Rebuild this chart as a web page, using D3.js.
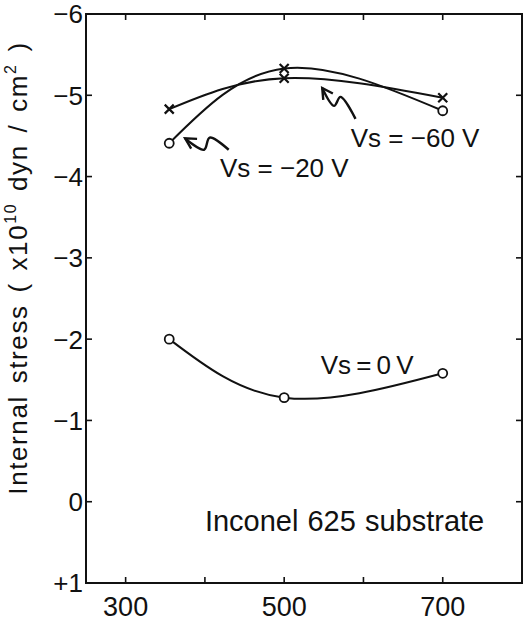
<!DOCTYPE html>
<html>
<head>
<meta charset="utf-8">
<script src="https://cdn.jsdelivr.net/npm/d3@7"></script>
<style>
  body { margin: 0; background: #fff; }
  text { font-family: "Liberation Sans", Arial, sans-serif; fill: #111; }
</style>
</head>
<body>
<div id="chart"></div>
<script>
// substrate temperature (x) and internal stress in 1e10 dyn/cm2 (y, negative = up)
var temps = [355, 500, 700];
var stress0 = [-2.0, -1.28, -1.58];
var stress20 = [-4.41, -5.33, -4.81];
var stress60 = [-4.83, -5.21, -4.97];
var marks0 = ["o", "o", "o"];
var marks20 = ["o", "x", "o"];
var marks60 = ["x", "x", "x"];

var xTicks = [300, 400, 500, 600, 700];
var xLabels = [300, 500, 700];
var yTicks = [-6, -5, -4, -3, -2, -1, 0, 1];
var yLabels = ["\u22126", "\u22125", "\u22124", "\u22123", "\u22122", "\u22121", "0", "+1"];

// annotations, in data units
var notes = [
  { text: "Vs = \u221220 V", x: 419, y: -4.0, size: 26, ws: 0 },
  { text: "Vs = \u221260 V", x: 584, y: -4.36, size: 26, ws: 0 },
  { text: "Vs = 0 V", x: 546, y: -1.57, size: 26, ws: -2 },
  { text: "Inconel 625 substrate", x: 400, y: 0.36, size: 29, ws: 1 }
];
var arrow20 = [[375, -4.47], [399, -4.33], [406, -4.48], [430, -4.33]];
var arrow60 = [[548, -5.09], [563, -4.87], [571, -4.98], [590, -4.71]];

var width = 528, height = 625;

var x = d3.scaleLinear().domain([250, 800]).range([86, 522]);
var y = d3.scaleLinear().domain([-6, 1]).range([14, 583]);

var svg = d3.select("#chart").append("svg")
  .attr("width", width)
  .attr("height", height);

////////////////////// frame and ticks //////////////////////
svg.append("rect")
  .attr("x", x(250)).attr("y", y(-6))
  .attr("width", x(800) - x(250)).attr("height", y(1) - y(-6))
  .attr("fill", "none").attr("stroke", "#111").attr("stroke-width", 2);

var tick = 6;
svg.selectAll("line.xb").data(xTicks).enter().append("line")
  .attr("x1", d => x(d)).attr("x2", d => x(d))
  .attr("y1", y(1)).attr("y2", y(1) - tick)
  .attr("stroke", "#111").attr("stroke-width", 1.6);
svg.selectAll("line.xt").data(xTicks).enter().append("line")
  .attr("x1", d => x(d)).attr("x2", d => x(d))
  .attr("y1", y(-6)).attr("y2", y(-6) + tick)
  .attr("stroke", "#111").attr("stroke-width", 1.6);
svg.selectAll("line.yl").data(yTicks).enter().append("line")
  .attr("x1", x(250)).attr("x2", x(250) + tick)
  .attr("y1", d => y(d)).attr("y2", d => y(d))
  .attr("stroke", "#111").attr("stroke-width", 1.6);
svg.selectAll("line.yr").data(yTicks).enter().append("line")
  .attr("x1", x(800)).attr("x2", x(800) - tick)
  .attr("y1", d => y(d)).attr("y2", d => y(d))
  .attr("stroke", "#111").attr("stroke-width", 1.6);

svg.selectAll("text.xl").data(xLabels).enter().append("text")
  .attr("x", d => x(d)).attr("y", 616)
  .attr("text-anchor", "middle")
  .style("font-size", "27px")
  .text(d => d);

svg.selectAll("text.yl").data(yTicks).enter().append("text")
  .attr("x", 83).attr("y", d => y(d))
  .attr("dy", "0.36em")
  .attr("text-anchor", "end")
  .style("font-size", "26px")
  .text((d, i) => yLabels[i]);

// y axis title
var yt = svg.append("text")
  .attr("transform", "translate(27,268) rotate(-90)")
  .attr("text-anchor", "middle")
  .style("font-size", "26px")
  .style("letter-spacing", "1.6px")
  .style("word-spacing", "3px");
yt.append("tspan").text("Internal stress ( x10");
yt.append("tspan").attr("dy", -11).style("font-size", "16px").text("10");
yt.append("tspan").attr("dy", 11).text(" dyn / cm");
yt.append("tspan").attr("dy", -11).style("font-size", "16px").text("2");
yt.append("tspan").attr("dy", 11).text(" )");

////////////////////// curves //////////////////////
var line = d3.line()
  .x(d => x(d[0])).y(d => y(d[1]))
  .curve(d3.curveNatural);

var series = [
  { v: stress0, m: marks0 },
  { v: stress20, m: marks20 },
  { v: stress60, m: marks60 }
];

series.forEach(function(s) {
  var pts = temps.map((t, i) => [t, s.v[i], s.m[i]]);
  svg.append("path")
    .attr("d", line(pts))
    .attr("fill", "none").attr("stroke", "#111").attr("stroke-width", 2);

  svg.selectAll(null).data(pts.filter(p => p[2] === "o")).enter().append("circle")
    .attr("cx", d => x(d[0])).attr("cy", d => y(d[1])).attr("r", 4.5)
    .attr("fill", "#fff").attr("stroke", "#111").attr("stroke-width", 1.8);

  svg.selectAll(null).data(pts.filter(p => p[2] === "x")).enter().append("path")
    .attr("d", d => {
      var cx = x(d[0]), cy = y(d[1]), r = 4.5;
      return "M" + (cx - r) + "," + (cy - r) + "L" + (cx + r) + "," + (cy + r) +
             "M" + (cx + r) + "," + (cy - r) + "L" + (cx - r) + "," + (cy + r);
    })
    .attr("stroke", "#111").attr("stroke-width", 2.2);
});

////////////////////// annotations //////////////////////
svg.selectAll("text.note").data(notes).enter().append("text")
  .attr("x", d => x(d.x)).attr("y", d => y(d.y))
  .style("font-size", d => d.size + "px")
  .style("word-spacing", d => d.ws + "px")
  .text(d => d.text);

function squiggle(pts) {
  var p = pts.map(d => [x(d[0]), y(d[1])]);
  svg.append("path")
    .attr("d", d3.line().curve(d3.curveCatmullRom)(p))
    .attr("fill", "none").attr("stroke", "#111").attr("stroke-width", 2.4);
  // open arrow head at the first point
  var a = Math.atan2(p[1][1] - p[0][1], p[1][0] - p[0][0]), len = 12, sp = 0.5;
  var h1 = [p[0][0] + len * Math.cos(a - sp), p[0][1] + len * Math.sin(a - sp)];
  var h2 = [p[0][0] + len * Math.cos(a + sp), p[0][1] + len * Math.sin(a + sp)];
  svg.append("path")
    .attr("d", "M" + h1 + "L" + p[0] + "L" + h2)
    .attr("fill", "none").attr("stroke", "#111").attr("stroke-width", 2.4);
}
squiggle(arrow20);
squiggle(arrow60);
</script>
</body>
</html>
